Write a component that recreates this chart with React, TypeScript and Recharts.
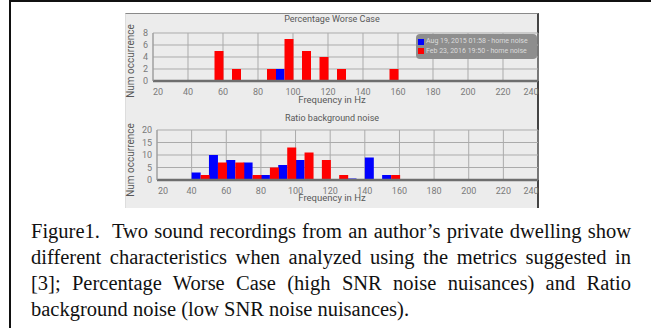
import React from 'react';
import { BarChart, Bar, XAxis, YAxis, CartesianGrid, Legend } from 'recharts';

// 10 Hz frequency bins (start of each bin, Hz)
const binStarts = [20, 30, 40, 50, 60, 70, 80, 90, 100, 110, 120, 130, 140, 150, 160, 170, 180, 190, 200, 210, 220, 230];

// Percentage Worse Case
const topBlue = [0, 0, 0, 0, 0, 0, 0, 2, 0, 0, 0, 0, 0, 0, 0, 0, 0, 0, 0, 0, 0, 0];
const topRed = [0, 0, 0, 5, 2, 0, 2, 7, 5, 4, 2, 0, 0, 2, 0, 0, 0, 0, 0, 0, 0, 0];

// Ratio background noise
const bottomBlue = [0, 0, 3, 10, 8, 7, 2, 6, 8, 0.4, 0.4, 0.6, 9, 2, 0, 0, 0, 0, 0, 0, 0, 0];
const bottomRed = [0, 0, 2, 7, 7, 2, 5, 13, 11, 8, 2, 0, 0.4, 2, 0, 0, 0, 0, 0, 0, 0, 0];

const xTicks = [20, 40, 60, 80, 100, 120, 140, 160, 180, 200, 220, 240];
const topYTicks = [0, 2, 4, 6, 8];
const bottomYTicks = [0, 5, 10, 15, 20];

const seriesBlueName = 'Aug 19, 2015 01:58 - home noise';
const seriesRedName = 'Feb 23, 2016 19:50 - home noise';

const topData = binStarts.map((s, i) => ({ bin: `${s}`, start: s, blue: topBlue[i], red: topRed[i] }));
const bottomData = binStarts.map((s, i) => ({ bin: `${s}`, start: s, blue: bottomBlue[i], red: bottomRed[i] }));

const FONT = 'Roboto, "DejaVu Sans", sans-serif';

const makeXTick = (firstDx: number, lastDx: number) => (props: any) => {
  const { x, y, payload } = props;
  let dx = 0;
  if (payload.value === 20) dx = firstDx;
  if (payload.value === 240) dx = lastDx;
  return (
    <text x={x + dx} y={y} dy="0.71em" textAnchor="middle" fill="#7a7a7a" fontSize={9} fontFamily={FONT}>
      {payload.value}
    </text>
  );
};

const LegendBox = (props: any) => {
  const payload = props.payload || [];
  return (
    <div
      style={{
        width: 121,
        height: 25,
        background: '#8e8e8e',
        borderRadius: 4,
        boxSizing: 'border-box',
        padding: '3px 2px',
        fontFamily: FONT,
        fontSize: 7,
        lineHeight: '9.5px',
        color: '#dcdcdc',
      }}
    >
      {payload.map((e: any) => (
        <div key={e.value} style={{ display: 'flex', alignItems: 'center', whiteSpace: 'nowrap' }}>
          <span style={{ display: 'inline-block', width: 6, height: 6, background: e.color, marginRight: 2 }} />
          {e.value}
        </div>
      ))}
    </div>
  );
};

const textCommon: React.CSSProperties = {
  position: 'absolute',
  fontFamily: FONT,
  color: '#585858',
  whiteSpace: 'nowrap',
};

export default function App() {
  return (
    <div style={{ position: 'absolute', left: 0, top: 0, width: 651, height: 328, overflow: 'hidden', background: '#fff' }}>
      {/* figure frame */}
      <div style={{ position: 'absolute', left: 9, top: 0, width: 700, height: 400, border: '2px solid #111', boxSizing: 'border-box' }} />

      {/* chart panel */}
      <div
        style={{
          position: 'absolute',
          left: 125,
          top: 13,
          width: 414,
          height: 195,
          background: '#ececec',
          borderTop: '1px solid #8a8a8a',
          borderRight: '2px solid #444',
          borderLeft: '1px solid #dddddd',
          boxSizing: 'border-box',
        }}
      />

      {/* titles and axis labels */}
      <div style={{ ...textCommon, left: 125, width: 414, top: 13.5, textAlign: 'center', fontSize: 9, lineHeight: '11px' }}>
        Percentage Worse Case
      </div>
      <div style={{ ...textCommon, left: 125, width: 414, top: 112.5, textAlign: 'center', fontSize: 9, lineHeight: '11px' }}>
        Ratio background noise
      </div>
      <div style={{ ...textCommon, left: 125, width: 414, top: 94, textAlign: 'center', fontSize: 9.5, lineHeight: '11px' }}>
        Frequency in Hz
      </div>
      <div style={{ ...textCommon, left: 125, width: 414, top: 192, textAlign: 'center', fontSize: 9.5, lineHeight: '11px' }}>
        Frequency in Hz
      </div>
      <div style={{ ...textCommon, left: 130, top: 61, fontSize: 10, lineHeight: '11px', transform: 'translate(-50%, -50%) rotate(-90deg)' }}>
        Num occurrence
      </div>
      <div style={{ ...textCommon, left: 130, top: 160, fontSize: 10, lineHeight: '11px', transform: 'translate(-50%, -50%) rotate(-90deg)' }}>
        Num occurrence
      </div>

      {/* top chart */}
      <div style={{ position: 'absolute', left: 125, top: 13 }}>
        <BarChart
          width={414}
          height={100}
          data={topData}
          margin={{ top: 20, right: 1, left: 0, bottom: 12 }}
          barCategoryGap={0}
          barGap={0}
        >
          <CartesianGrid xAxisId="num" stroke="#ababab" strokeWidth={1} />
          <XAxis xAxisId="cat" dataKey="bin" hide height={0} />
          <XAxis
            xAxisId="num"
            type="number"
            dataKey="start"
            domain={[20, 240]}
            allowDataOverflow
            ticks={xTicks}
            interval={0}
            height={20}
            tickLine={false}
            axisLine={{ stroke: '#6e6e6e', strokeWidth: 2.5 }}
            tick={makeXTick(5, -7)}
          />
          <YAxis
            width={28}
            domain={[0, 8]}
            ticks={topYTicks}
            interval={0}
            tickLine={false}
            tickSize={3}
            tickMargin={2}
            axisLine={{ stroke: '#9a9a9a' }}
            tick={{ fill: '#7a7a7a', fontSize: 9, fontFamily: FONT }}
          />
          <Legend
            layout="vertical"
            align="center"
            verticalAlign="middle"
            wrapperStyle={{ left: 291, top: 21, width: 121 }}
            content={<LegendBox />}
          />
          <Bar xAxisId="cat" dataKey="blue" name={seriesBlueName} fill="#0000ff" isAnimationActive={false} />
          <Bar xAxisId="cat" dataKey="red" name={seriesRedName} fill="#ff0000" isAnimationActive={false} />
        </BarChart>
      </div>

      {/* bottom chart */}
      <div style={{ position: 'absolute', left: 125, top: 110 }}>
        <BarChart
          width={414}
          height={100}
          data={bottomData}
          margin={{ top: 20, right: 1, left: 0, bottom: 10 }}
          barCategoryGap={0}
          barGap={0}
        >
          <CartesianGrid xAxisId="num" stroke="#ababab" strokeWidth={1} />
          <XAxis xAxisId="cat" dataKey="bin" hide height={0} />
          <XAxis
            xAxisId="num"
            type="number"
            dataKey="start"
            domain={[20, 240]}
            allowDataOverflow
            ticks={xTicks}
            interval={0}
            height={20}
            tickLine={false}
            axisLine={{ stroke: '#6e6e6e', strokeWidth: 2.5 }}
            tick={makeXTick(6, -7)}
          />
          <YAxis
            width={32}
            domain={[0, 20]}
            ticks={bottomYTicks}
            interval={0}
            tickLine={false}
            tickSize={3}
            tickMargin={2}
            axisLine={{ stroke: '#9a9a9a' }}
            tick={{ fill: '#7a7a7a', fontSize: 9, fontFamily: FONT }}
          />
          <Bar xAxisId="cat" dataKey="blue" name={seriesBlueName} fill="#0000ff" isAnimationActive={false} />
          <Bar xAxisId="cat" dataKey="red" name={seriesRedName} fill="#ff0000" isAnimationActive={false} />
        </BarChart>
      </div>

      {/* caption */}
      <div
        style={{
          position: 'absolute',
          left: 31,
          top: 218,
          width: 600,
          fontFamily: '"Liberation Serif", "Times New Roman", serif',
          fontSize: 20.5,
          lineHeight: '26px',
          textAlign: 'justify',
          color: '#111',
        }}
      >
        Figure1.{'\u00a0'} Two sound recordings from an author’s private dwelling show different characteristics when
        analyzed using the metrics suggested in [3]; Percentage Worse Case (high SNR noise nuisances) and Ratio
        background noise (low SNR noise nuisances).
      </div>
    </div>
  );
}
